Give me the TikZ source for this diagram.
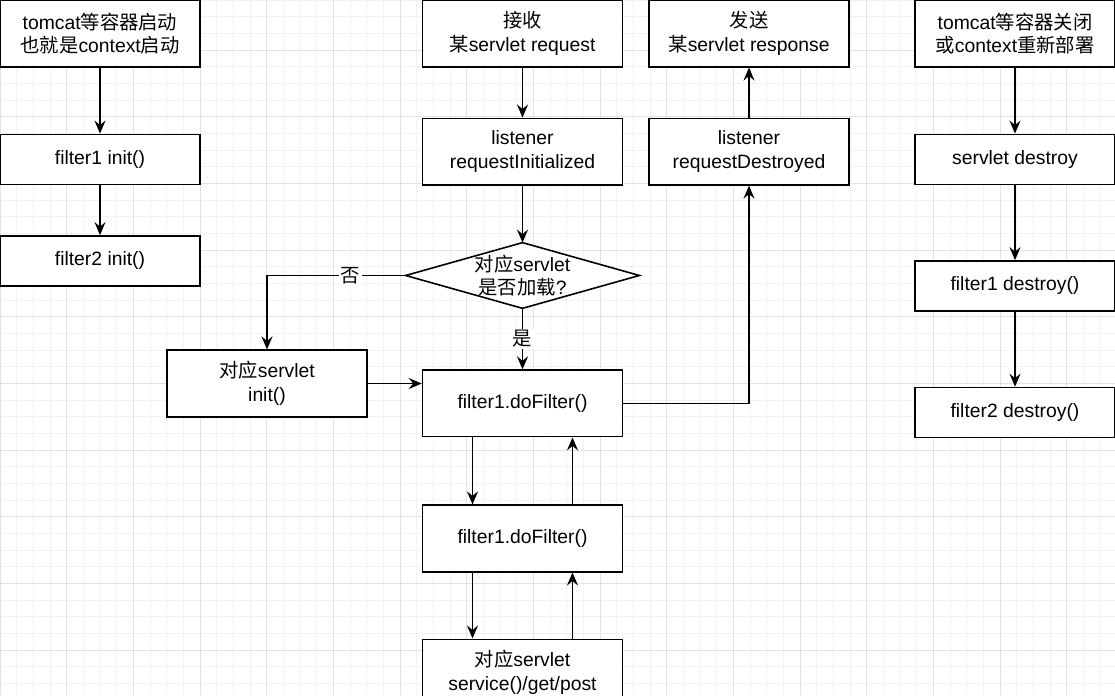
\documentclass[tikz,border=0pt]{standalone}
\usepackage{fontspec}
\setmainfont{Liberation Sans}
\newfontfamily\cjk{Noto Sans CJK SC}
\usetikzlibrary{positioning,arrows.meta}
\definecolor{gridlo}{RGB}{242,242,242}
\definecolor{gridhi}{RGB}{226,226,226}
\tikzset{
	lbl/.style={font=\fontsize{11}{13.5}\selectfont,align=center},
	box/.style={lbl,draw,line width=0.9pt,fill=white,minimum width=4cm,inner sep=2pt},
	tall/.style={box,minimum height=1.33cm},
	flat/.style={box,minimum height=1cm},
	line/.style={line width=0.9pt},
	arr/.style={line,-{Stealth[length=2.6mm,width=2.2mm,inset=0.9mm]}},
}
\begin{document}
\begin{tikzpicture}
		\useasboundingbox (0,0) rectangle (22.3,-13.9);
		\draw[gridlo] (0,-13.9) grid[step=1/3] (22.3,0);
		\draw[gridhi,shift={(0,-1)}] (0,-12.9) grid[step=4/3] (22.3,1);

		\node[tall] (a1) at (2,-0.67) {tomcat{\cjk 等容器启动}\\{\cjk 也就是}context{\cjk 启动}};
		\node[flat] (a2) [below=1.32cm of a1] {filter1 init()};
		\node[flat] (a3) [below=1cm of a2] {filter2 init()};

		\node[tall] (b1) at (10.45,-0.67) {{\cjk 接收}\\{\cjk 某}servlet request};
		\node[tall] (b2) [below=1cm of b1] {listener\\requestInitialized};
		\node[lbl] (b3) [below=1.14cm of b2,minimum width=4.66cm,minimum height=1.3cm,inner sep=0pt] {{\cjk 对应}servlet\\{\cjk 是否加载}?};
		\node[tall] (b4) [below=1.22cm of b3] {filter1.doFilter()};
		\node[tall] (b5) [below=1.34cm of b4] {filter1.doFilter()};
		\node[tall] (b6) [below=1.32cm of b5] {{\cjk 对应}servlet\\service()/get/post};

		\node[tall] (e1) at (5.34,-7.67) {{\cjk 对应}servlet\\init()};

		\node[tall] (c1) at (14.98,-0.67) {{\cjk 发送}\\{\cjk 某}servlet response};
		\node[tall] (c2) [below=1cm of c1] {listener\\requestDestroyed};

		\node[tall] (d1) at (20.3,-0.67) {tomcat{\cjk 等容器关闭}\\{\cjk 或}context{\cjk 重新部署}};
		\node[flat] (d2) [below=1.32cm of d1] {servlet destroy};
		\node[flat] (d3) [below=1.5cm of d2] {filter1 destroy()};
		\node[flat] (d4) [below=1.5cm of d3] {filter2 destroy()};

		\draw[line,fill=white] (b3.north) -- (b3.east) -- (b3.south) -- (b3.west) -- cycle;
		\node[lbl] at (b3) {{\cjk 对应}servlet\\{\cjk 是否加载}?};

		\draw[arr] (a1) -- (a2);
		\draw[arr] (a2) -- (a3);
		\draw[arr] (b1) -- (b2);
		\draw[arr] (b2) -- (b3.north);
		\draw[arr] (b3.west) -| node[lbl,pos=0.2,fill=white,inner sep=1pt]{\cjk 否} (e1.north);
		\draw[arr] (b3.south) -- node[lbl,fill=white,inner sep=1pt]{\cjk 是} (b4.north);
		\draw[arr] (e1.east) -- (e1.east -| b4.west);
		\draw[arr] (b4.east) -| (c2.south);
		\draw[arr] (c2) -- (c1);
		\draw[arr] ([xshift=-1cm]b4.south) -- ([xshift=-1cm]b5.north);
		\draw[arr] ([xshift=1cm]b5.north) -- ([xshift=1cm]b4.south);
		\draw[arr] ([xshift=-1cm]b5.south) -- ([xshift=-1cm]b6.north);
		\draw[arr] ([xshift=1cm]b6.north) -- ([xshift=1cm]b5.south);
		\draw[arr] (d1) -- (d2);
		\draw[arr] (d2) -- (d3);
		\draw[arr] (d3) -- (d4);
\end{tikzpicture}
\end{document}
